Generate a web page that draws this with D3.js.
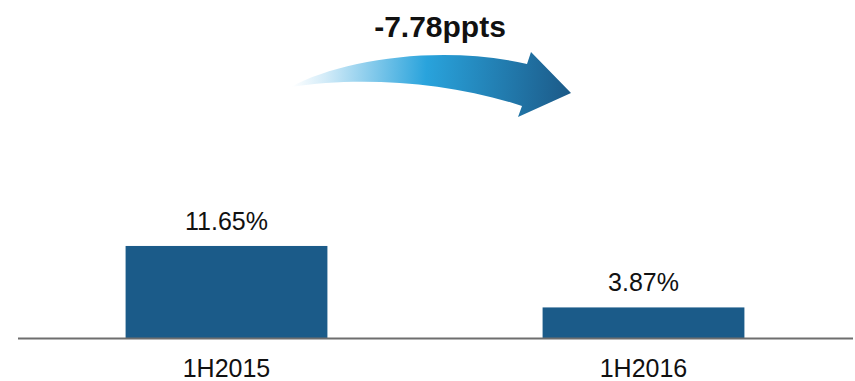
<!DOCTYPE html>
<html><head><meta charset="utf-8">
<script src="https://cdn.jsdelivr.net/npm/d3@7"></script>
<style>html,body{margin:0;padding:0;background:#fff}svg{display:block}</style>
</head><body>
<svg id="chart" width="855" height="381"></svg>
<script>
const categories = ["1H2015", "1H2016"];
const values = [11.65, 3.87];
const valueLabels = ["11.65%", "3.87%"];
const changeLabel = "-7.78ppts";

const svg = d3.select("#chart");
const base = 338;

const x = d3.scaleBand().domain(categories).range([18, 852]).paddingInner(0.516).paddingOuter(0.258);
const y = d3.scaleLinear().domain([0, 12]).range([base, base - 12 * 7.9]);

const font = "'Liberation Sans', Arial, sans-serif";

const defs = svg.append("defs");
const g = defs.append("linearGradient").attr("id", "arrowGrad")
  .attr("gradientUnits", "userSpaceOnUse")
  .attr("x1", 292).attr("y1", 80).attr("x2", 570).attr("y2", 95);
g.append("stop").attr("offset", "0").attr("stop-color", "#ffffff");
g.append("stop").attr("offset", "0.12").attr("stop-color", "#d2ebf8");
g.append("stop").attr("offset", "0.48").attr("stop-color", "#29a3dc");
g.append("stop").attr("offset", "1").attr("stop-color", "#1c5a88");

svg.selectAll("rect.bar").data(values).join("rect")
  .attr("class", "bar")
  .attr("x", (d, i) => x(categories[i]))
  .attr("width", x.bandwidth())
  .attr("y", d => y(d))
  .attr("height", d => base - y(d))
  .attr("fill", "#1b5b89");

svg.append("line").attr("x1", 18).attr("x2", 853).attr("y1", base + 0.5).attr("y2", base + 0.5)
  .attr("stroke", "#6e6e6e").attr("stroke-width", 2);

svg.selectAll("text.val").data(values).join("text")
  .attr("class", "val")
  .attr("x", (d, i) => x(categories[i]) + x.bandwidth() / 2)
  .attr("y", d => y(d) - 16)
  .attr("text-anchor", "middle")
  .attr("font-family", font).attr("font-size", 25).attr("fill", "#111")
  .text((d, i) => valueLabels[i]);

svg.selectAll("text.cat").data(categories).join("text")
  .attr("class", "cat")
  .attr("x", d => x(d) + x.bandwidth() / 2)
  .attr("y", 377)
  .attr("text-anchor", "middle")
  .attr("font-family", font).attr("font-size", 25).attr("fill", "#111")
  .text(d => d);

const p = d3.path();
p.moveTo(291, 87);
p.bezierCurveTo(340, 60, 440, 44, 527, 64);
p.lineTo(531, 52);
p.lineTo(571, 93);
p.lineTo(518, 117);
p.lineTo(522, 106);
p.bezierCurveTo(450, 82, 360, 76, 291, 87);
p.closePath();
svg.append("path").attr("d", p.toString()).attr("fill", "url(#arrowGrad)");

svg.append("text")
  .attr("x", 440).attr("y", 37)
  .attr("text-anchor", "middle")
  .attr("font-family", font).attr("font-size", 30).attr("font-weight", "bold").attr("fill", "#111")
  .text(changeLabel);
</script>
</body></html>
